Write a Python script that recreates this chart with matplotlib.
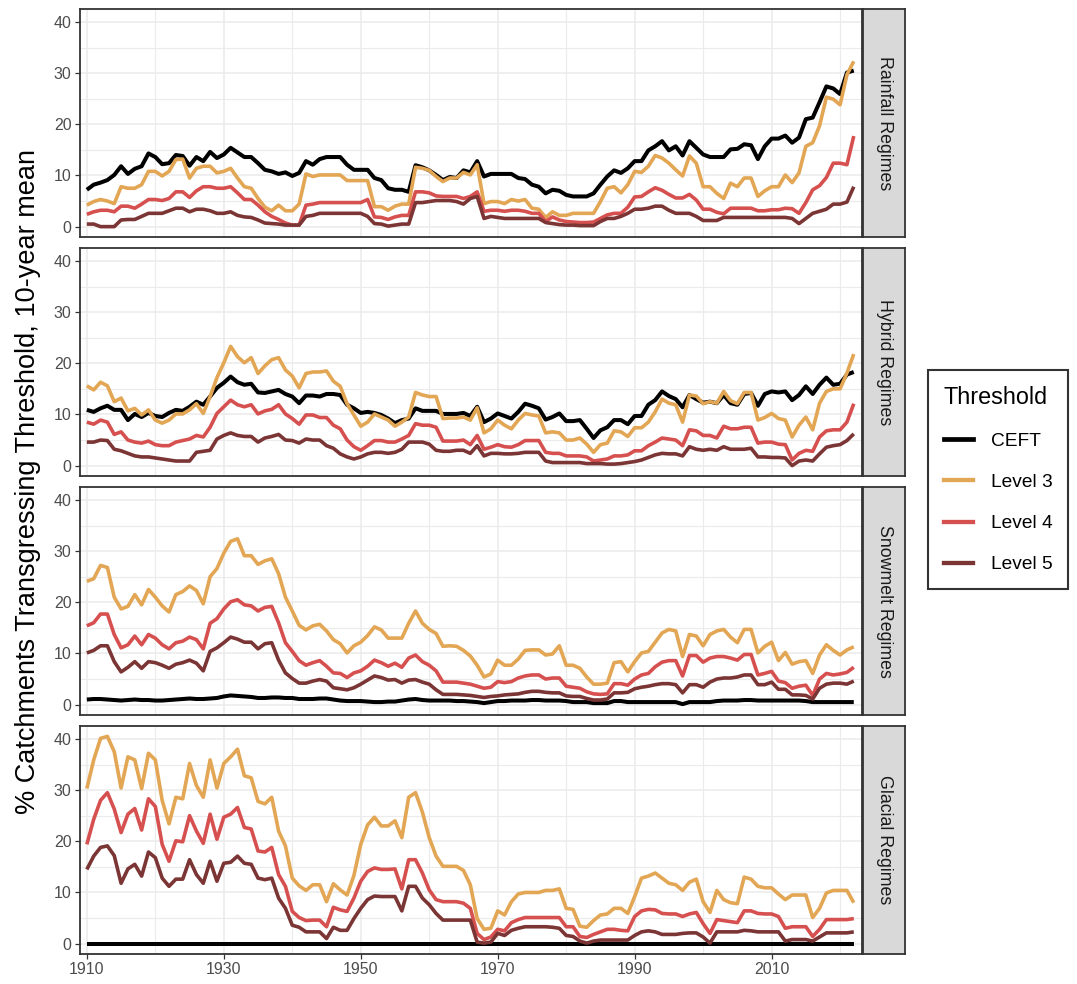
import numpy as np
import matplotlib.pyplot as plt
from matplotlib.lines import Line2D


W, H = 1077, 984
DPI = 100

years = np.arange(1910, 2023)

thresholds = ['CEFT', 'Level 3', 'Level 4', 'Level 5']
colours = ['#000000', '#E2A654', '#D75050', '#7C3535']
widths = [2.9, 2.6, 2.6, 2.6]
regimes = ['Rainfall Regimes', 'Hybrid Regimes', 'Snowmelt Regimes', 'Glacial Regimes']

x_major = [1910, 1930, 1950, 1970, 1990, 2010]
x_minor = [1920, 1940, 1960, 1980, 2000, 2020]
y_major = [0, 10, 20, 30, 40]
y_minor = [5, 15, 25, 35]

# % of catchments over each threshold, 10-year running mean, 1910-2022
rain_ceft = [
    7.2, 8.2, 8.6, 9.1, 10.1, 11.8, 10.3, 11.3, 11.8, 14.3,
    13.6, 12.2, 12.4, 14.0, 13.8, 11.9, 13.6, 12.8, 14.6, 13.4,
    14.1, 15.4, 14.5, 13.6, 13.6, 12.4, 11.1, 10.8, 10.3, 10.6,
    9.9, 10.5, 12.8, 12.1, 13.2, 13.6, 13.6, 13.6, 12.1, 11.1,
    11.1, 11.1, 9.5, 9.1, 7.5, 7.2, 7.2, 6.8, 12.0, 11.6,
    11.0, 10.1, 9.1, 9.7, 9.5, 11.0, 10.6, 12.8, 9.8, 10.3,
    10.3, 10.3, 10.3, 9.5, 9.3, 8.2, 7.8, 6.5, 7.2, 7.0,
    6.2, 5.9, 5.9, 5.9, 6.5, 8.2, 9.8, 11.0, 10.5, 11.4,
    12.8, 12.8, 14.9, 15.7, 16.7, 14.9, 15.7, 13.9, 16.7, 15.4,
    14.1, 13.6, 13.6, 13.6, 15.1, 15.2, 16.1, 15.9, 13.2, 15.7,
    17.2, 17.2, 17.8, 16.4, 17.4, 21.0, 21.3, 24.3, 27.4, 27.0,
    25.9, 30.1, 30.5,
]
rain_l3 = [
    4.2, 4.9, 5.3, 5.0, 4.5, 7.8, 7.5, 7.5, 8.2, 10.8,
    10.8, 9.9, 10.8, 13.1, 13.2, 9.5, 11.4, 11.8, 11.8, 10.5,
    10.8, 11.4, 9.5, 7.8, 7.5, 5.5, 3.8, 3.1, 4.2, 3.1,
    3.1, 4.4, 10.3, 9.8, 10.1, 10.1, 10.1, 10.1, 9.0, 9.0,
    9.0, 9.0, 3.9, 3.9, 3.2, 4.0, 4.4, 4.4, 11.6, 11.4,
    11.0, 9.8, 8.8, 9.5, 9.5, 10.6, 10.1, 12.1, 4.5, 4.9,
    4.9, 4.5, 5.3, 5.0, 5.3, 3.6, 3.4, 1.8, 2.9, 2.2,
    2.2, 2.6, 2.6, 2.6, 2.6, 4.9, 7.5, 7.8, 6.6, 8.2,
    10.8, 10.6, 11.8, 13.9, 13.4, 12.4, 11.1, 9.9, 13.8, 12.4,
    7.8, 7.8, 6.5, 5.5, 8.5, 7.8, 9.5, 9.5, 5.9, 7.0,
    7.8, 7.8, 10.1, 8.6, 10.5, 15.7, 16.4, 19.7, 25.3, 24.9,
    23.8, 29.7, 32.3,
]
rain_l4 = [
    2.4, 2.9, 3.2, 3.2, 2.9, 4.0, 4.0, 3.6, 4.4, 5.3,
    5.3, 5.1, 5.5, 6.8, 6.8, 5.7, 7.0, 7.8, 7.8, 7.5,
    7.5, 7.8, 6.6, 5.3, 5.3, 4.2, 2.9, 2.0, 1.4, 0.7,
    0.3, 0.3, 4.2, 4.4, 4.7, 4.7, 4.7, 4.7, 4.7, 4.7,
    4.7, 5.3, 1.9, 1.8, 1.4, 1.9, 2.2, 2.2, 6.8, 6.8,
    6.6, 6.0, 5.9, 5.9, 5.9, 5.5, 5.9, 6.8, 3.0, 3.2,
    3.2, 3.0, 3.2, 3.2, 3.0, 2.6, 2.6, 1.0, 1.9, 1.3,
    1.0, 0.9, 0.8, 0.8, 0.9, 1.6, 2.3, 2.6, 2.6, 3.8,
    5.8, 5.9, 6.8, 7.6, 7.1, 6.3, 5.6, 5.6, 6.3, 5.2,
    3.4, 3.4, 2.8, 2.5, 3.6, 3.6, 3.6, 3.6, 3.1, 3.1,
    3.3, 3.3, 3.6, 3.5, 2.6, 4.7, 7.2, 8.0, 9.6, 12.4,
    12.4, 12.1, 17.7,
]
rain_l5 = [
    0.5, 0.5, 0.0, 0.0, 0.0, 1.3, 1.4, 1.4, 2.0, 2.6,
    2.6, 2.6, 3.1, 3.6, 3.6, 2.9, 3.4, 3.4, 3.1, 2.6,
    2.6, 2.9, 2.2, 1.9, 1.8, 1.3, 0.7, 0.6, 0.5, 0.3,
    0.3, 0.3, 2.0, 2.2, 2.6, 2.6, 2.6, 2.6, 2.6, 2.6,
    2.6, 2.0, 0.6, 0.5, 0.1, 0.3, 0.5, 0.5, 4.7, 4.7,
    4.9, 5.1, 5.1, 5.1, 4.9, 4.4, 5.5, 5.9, 1.6, 2.0,
    1.8, 1.6, 1.6, 1.6, 1.6, 1.6, 1.6, 0.8, 0.6, 0.4,
    0.3, 0.3, 0.2, 0.2, 0.2, 1.0, 1.6, 1.6, 2.0, 2.6,
    3.4, 3.4, 3.6, 4.0, 4.0, 3.2, 2.6, 2.6, 2.6, 2.0,
    1.2, 1.2, 1.2, 1.8, 1.8, 1.8, 1.8, 1.8, 1.8, 1.8,
    1.8, 1.8, 1.8, 1.6, 0.6, 1.6, 2.6, 3.0, 3.4, 4.4,
    4.4, 4.8, 7.8,
]

hybrid_ceft = [
    10.9, 10.5, 11.2, 11.7, 10.9, 10.9, 8.9, 10.1, 9.5, 10.3,
    9.7, 9.5, 10.3, 10.9, 10.7, 11.5, 12.5, 11.9, 13.5, 15.2,
    16.2, 17.4, 16.3, 15.8, 16.0, 14.3, 14.2, 14.5, 14.8, 14.0,
    13.5, 12.2, 13.7, 13.7, 13.5, 14.0, 14.0, 13.8, 11.9, 11.2,
    10.3, 10.5, 10.3, 9.9, 9.2, 8.3, 8.9, 9.2, 11.2, 10.7,
    10.7, 10.7, 10.1, 10.1, 10.1, 10.3, 9.7, 11.5, 8.5, 9.2,
    10.2, 9.7, 9.2, 10.5, 12.1, 11.7, 11.2, 9.0, 9.5, 10.2,
    8.7, 8.7, 8.9, 7.2, 5.4, 6.9, 7.5, 8.9, 8.9, 8.1,
    9.7, 9.7, 11.9, 12.8, 14.5, 13.6, 13.0, 11.4, 13.8, 13.0,
    12.3, 12.5, 12.2, 13.8, 12.2, 11.9, 14.0, 14.2, 11.7, 14.0,
    14.5, 14.3, 14.5, 12.8, 13.8, 15.5, 14.0, 15.8, 17.2, 15.8,
    16.0, 17.8, 18.3,
]
hybrid_l3 = [
    15.6, 14.8, 16.3, 15.6, 12.5, 13.2, 10.7, 11.2, 9.9, 10.9,
    8.9, 8.3, 8.9, 10.1, 10.1, 10.9, 12.1, 10.2, 13.5, 17.2,
    20.1, 23.3, 21.3, 20.1, 21.1, 18.0, 19.5, 20.7, 21.1, 18.7,
    17.5, 15.2, 18.0, 18.3, 18.3, 18.5, 16.5, 15.5, 12.1, 9.9,
    7.7, 8.5, 10.1, 9.5, 8.9, 7.7, 8.5, 9.5, 14.3, 13.8,
    13.5, 13.5, 9.2, 9.3, 9.3, 9.5, 8.9, 11.3, 6.4, 7.2,
    8.9, 7.9, 7.2, 8.9, 10.2, 9.9, 9.7, 6.4, 6.6, 6.4,
    5.0, 5.0, 5.4, 4.2, 2.6, 4.1, 4.4, 6.8, 6.6, 5.7,
    7.4, 7.4, 8.5, 10.5, 13.0, 12.2, 11.9, 8.5, 13.8, 13.6,
    12.1, 12.5, 12.2, 14.5, 12.7, 12.1, 14.3, 14.3, 8.9, 9.4,
    10.2, 9.2, 8.9, 5.6, 7.9, 9.5, 7.0, 12.2, 14.5, 15.0,
    15.0, 18.1, 21.8,
]
hybrid_l4 = [
    8.5, 8.1, 8.9, 8.5, 6.1, 6.6, 5.0, 4.6, 4.4, 4.8,
    4.1, 3.9, 3.9, 4.6, 4.9, 5.2, 5.9, 5.6, 7.5, 10.2,
    11.5, 12.8, 11.9, 11.5, 11.9, 10.1, 10.7, 11.0, 11.9, 10.1,
    9.2, 8.1, 9.9, 9.9, 9.4, 9.4, 7.9, 7.2, 5.0, 3.7,
    3.0, 3.9, 4.9, 4.9, 4.6, 4.6, 5.2, 5.9, 8.2, 7.9,
    7.9, 7.5, 4.8, 4.8, 4.8, 5.0, 4.1, 5.9, 3.2, 3.6,
    4.1, 3.7, 3.6, 4.1, 4.9, 4.9, 4.9, 2.6, 2.4, 2.4,
    1.9, 1.9, 1.9, 1.7, 0.9, 1.1, 1.3, 1.9, 1.9, 2.1,
    2.9, 2.9, 3.9, 4.6, 5.4, 5.2, 5.0, 3.9, 7.0, 6.8,
    5.9, 5.9, 5.4, 7.7, 7.2, 7.2, 7.5, 7.5, 4.4, 4.6,
    4.6, 4.2, 4.1, 1.1, 2.4, 3.0, 2.8, 5.6, 6.8, 7.0,
    7.0, 8.5, 12.1,
]
hybrid_l5 = [
    4.6, 4.6, 5.0, 4.9, 3.2, 2.9, 2.4, 1.9, 1.7, 1.7,
    1.5, 1.3, 1.1, 0.9, 0.9, 0.9, 2.6, 2.8, 3.0, 5.2,
    5.9, 6.4, 5.9, 5.7, 5.7, 4.6, 5.4, 5.7, 6.1, 5.0,
    4.9, 4.4, 5.2, 5.0, 5.0, 3.9, 3.4, 2.3, 1.7, 1.3,
    1.7, 2.3, 2.6, 2.6, 2.4, 2.6, 3.2, 4.6, 4.6, 4.6,
    4.2, 3.0, 2.8, 2.8, 3.0, 3.0, 2.4, 3.9, 1.9, 2.4,
    2.4, 2.3, 2.3, 2.4, 2.6, 2.6, 2.6, 0.9, 0.6, 0.6,
    0.6, 0.6, 0.6, 0.4, 0.4, 0.4, 0.3, 0.3, 0.4, 0.6,
    0.8, 1.1, 1.6, 2.1, 2.4, 2.3, 2.3, 1.9, 3.7, 3.2,
    3.0, 3.2, 3.0, 3.7, 3.2, 3.2, 3.2, 3.4, 1.7, 1.7,
    1.6, 1.6, 1.5, 0.0, 0.9, 1.1, 0.9, 2.3, 3.6, 3.9,
    4.1, 4.9, 6.2,
]

snow_ceft = [
    1.0, 1.1, 1.1, 1.0, 0.9, 0.8, 0.9, 1.0, 0.9, 0.9,
    0.8, 0.8, 0.9, 1.0, 1.1, 1.2, 1.1, 1.1, 1.2, 1.3,
    1.6, 1.8, 1.7, 1.6, 1.5, 1.3, 1.3, 1.4, 1.4, 1.3,
    1.3, 1.1, 1.1, 1.1, 1.2, 1.2, 1.0, 0.8, 0.7, 0.7,
    0.7, 0.6, 0.5, 0.5, 0.6, 0.6, 0.8, 1.0, 1.1, 0.9,
    0.8, 0.8, 0.8, 0.8, 0.7, 0.7, 0.6, 0.5, 0.3, 0.5,
    0.7, 0.7, 0.8, 0.8, 0.8, 0.9, 0.9, 0.8, 0.8, 0.8,
    0.7, 0.5, 0.5, 0.5, 0.3, 0.3, 0.3, 0.7, 0.7, 0.5,
    0.5, 0.5, 0.5, 0.5, 0.5, 0.5, 0.5, 0.1, 0.5, 0.5,
    0.5, 0.5, 0.7, 0.8, 0.8, 0.8, 0.9, 0.9, 0.8, 0.8,
    0.8, 0.8, 0.8, 0.8, 0.8, 0.7, 0.5, 0.5, 0.5, 0.5,
    0.5, 0.5, 0.5,
]
snow_l3 = [
    24.1, 24.6, 27.2, 26.8, 21.0, 18.7, 19.2, 21.5, 19.5, 22.5,
    21.0, 19.3, 18.1, 21.5, 22.1, 23.2, 22.3, 19.7, 25.0, 26.6,
    29.6, 31.9, 32.4, 29.1, 29.1, 27.4, 28.1, 28.5, 25.6, 21.0,
    18.3, 15.5, 14.6, 15.4, 15.7, 14.4, 12.7, 11.9, 10.1, 11.5,
    12.2, 13.5, 15.2, 14.6, 13.0, 13.0, 13.0, 15.9, 18.3, 15.9,
    14.7, 13.9, 11.4, 11.5, 11.4, 10.6, 9.5, 7.7, 5.4, 6.0,
    8.7, 7.7, 7.7, 8.9, 10.6, 10.7, 10.7, 9.7, 9.9, 11.5,
    7.7, 7.7, 7.1, 5.4, 4.0, 4.0, 4.2, 8.2, 8.4, 6.4,
    8.4, 10.1, 10.4, 12.2, 14.0, 14.7, 14.4, 9.4, 13.7, 13.4,
    11.5, 13.7, 14.4, 14.7, 13.2, 12.1, 14.7, 14.7, 10.1, 11.4,
    12.2, 8.6, 10.2, 7.9, 8.4, 8.6, 6.1, 9.7, 11.7, 10.6,
    9.7, 10.7, 11.3,
]
snow_l4 = [
    15.4, 16.0, 17.7, 17.7, 13.7, 11.1, 11.7, 13.4, 11.7, 13.7,
    13.0, 11.7, 10.9, 12.1, 12.4, 13.2, 12.7, 10.9, 15.9, 16.8,
    18.7, 20.1, 20.5, 19.5, 19.3, 18.3, 19.0, 19.2, 16.0, 12.1,
    10.4, 8.6, 7.7, 8.2, 8.6, 7.5, 6.2, 6.1, 5.3, 6.2,
    6.6, 7.5, 8.7, 8.2, 7.5, 8.1, 7.3, 9.1, 9.7, 8.4,
    7.7, 6.6, 4.4, 4.4, 4.4, 4.2, 4.0, 3.6, 3.2, 3.4,
    4.5, 4.3, 4.5, 5.2, 5.6, 5.8, 5.8, 5.0, 5.2, 5.2,
    3.6, 3.4, 3.2, 2.5, 2.1, 2.0, 2.1, 4.1, 4.1, 3.8,
    5.0, 5.8, 6.1, 7.4, 8.3, 8.6, 8.6, 5.6, 9.6, 9.6,
    8.3, 9.1, 9.4, 9.4, 9.1, 8.7, 9.8, 9.8, 5.8, 6.1,
    6.5, 4.6, 4.3, 3.2, 3.6, 3.8, 1.8, 5.0, 6.1, 5.8,
    6.0, 6.3, 7.3,
]
snow_l5 = [
    10.1, 10.6, 11.5, 11.5, 8.4, 6.4, 7.3, 8.4, 7.1, 8.4,
    8.2, 7.7, 7.1, 7.9, 8.2, 8.7, 8.1, 6.6, 10.4, 11.1,
    12.1, 13.2, 12.8, 12.2, 12.2, 10.9, 11.9, 12.1, 8.7, 6.2,
    5.1, 4.2, 4.2, 4.6, 4.9, 4.6, 3.3, 3.1, 2.9, 3.3,
    4.0, 4.8, 5.6, 5.3, 4.8, 4.9, 4.2, 4.8, 4.9, 4.4,
    4.0, 2.9, 2.0, 2.0, 2.0, 1.9, 1.8, 1.6, 1.4, 1.6,
    1.7, 1.9, 2.0, 2.1, 2.4, 2.6, 2.6, 2.4, 2.3, 2.3,
    1.7, 1.6, 1.6, 1.2, 0.9, 0.9, 1.1, 2.3, 2.3, 2.4,
    3.1, 3.4, 3.6, 3.9, 4.1, 4.1, 3.9, 2.3, 3.9, 3.9,
    3.4, 4.4, 5.0, 5.2, 5.2, 5.4, 5.8, 5.8, 3.9, 3.9,
    4.4, 3.0, 3.0, 1.9, 1.9, 1.8, 1.1, 3.2, 4.0, 4.2,
    4.2, 4.0, 4.6,
]

glacial_ceft = [
    0, 0, 0, 0, 0, 0, 0, 0, 0, 0,
    0, 0, 0, 0, 0, 0, 0, 0, 0, 0,
    0, 0, 0, 0, 0, 0, 0, 0, 0, 0,
    0, 0, 0, 0, 0, 0, 0, 0, 0, 0,
    0, 0, 0, 0, 0, 0, 0, 0, 0, 0,
    0, 0, 0, 0, 0, 0, 0, 0, 0, 0,
    0, 0, 0, 0, 0, 0, 0, 0, 0, 0,
    0, 0, 0, 0, 0, 0, 0, 0, 0, 0,
    0, 0, 0, 0, 0, 0, 0, 0, 0, 0,
    0, 0, 0, 0, 0, 0, 0, 0, 0, 0,
    0, 0, 0, 0, 0, 0, 0, 0, 0, 0,
    0, 0, 0,
]
glacial_l3 = [
    30.3, 35.9, 40.1, 40.5, 37.5, 30.4, 36.5, 35.9, 30.3, 37.2,
    35.9, 28.0, 23.4, 28.6, 28.3, 35.2, 30.9, 28.6, 35.9, 30.4,
    35.2, 36.5, 38.0, 32.8, 32.4, 27.8, 27.3, 28.6, 22.0, 19.1,
    12.8, 11.3, 10.4, 11.5, 11.5, 8.2, 11.7, 10.5, 9.5, 13.3,
    19.4, 23.2, 24.7, 23.0, 23.0, 24.0, 20.7, 28.6, 29.5, 25.7,
    20.7, 17.1, 15.1, 15.1, 15.1, 14.3, 11.5, 4.9, 2.8, 3.0,
    6.4, 5.6, 8.2, 9.7, 10.0, 10.0, 10.0, 10.4, 10.4, 10.7,
    6.9, 6.7, 3.4, 3.2, 4.5, 5.6, 5.8, 6.9, 6.9, 5.9,
    9.2, 12.8, 13.2, 13.8, 12.8, 11.8, 11.5, 10.4, 12.0, 12.6,
    8.2, 6.1, 10.4, 8.6, 8.0, 7.8, 13.0, 12.6, 11.2, 10.9,
    10.9, 9.7, 8.6, 9.5, 9.5, 9.5, 5.1, 6.9, 9.9, 10.4,
    10.4, 10.4, 8.0,
]
glacial_l4 = [
    19.4, 24.3, 28.0, 29.5, 26.3, 21.7, 25.3, 26.4, 22.2, 28.3,
    26.8, 19.4, 16.1, 20.1, 19.9, 25.0, 22.0, 19.6, 25.3, 20.4,
    24.7, 25.3, 26.6, 22.7, 22.4, 18.1, 17.9, 18.8, 13.5, 11.2,
    6.3, 5.1, 4.5, 4.6, 4.6, 3.3, 7.1, 6.6, 6.3, 8.9,
    12.2, 14.1, 14.8, 14.5, 14.5, 14.6, 10.7, 16.4, 16.4, 13.8,
    10.5, 8.6, 8.2, 8.2, 8.2, 7.9, 6.9, 2.0, 0.8, 1.3,
    2.8, 2.5, 4.1, 4.7, 5.1, 5.1, 5.1, 5.1, 5.1, 5.1,
    3.3, 3.3, 1.4, 1.2, 1.8, 2.3, 2.8, 2.8, 2.6, 2.5,
    5.3, 6.4, 6.7, 6.6, 5.9, 5.8, 5.8, 5.3, 5.8, 6.1,
    3.9, 2.0, 4.7, 4.5, 4.3, 4.1, 6.4, 6.4, 5.9, 5.8,
    5.8, 5.3, 3.0, 3.3, 3.3, 3.3, 1.4, 2.8, 4.7, 4.7,
    4.7, 4.7, 4.9,
]
glacial_l5 = [
    14.5, 17.1, 18.8, 19.1, 17.2, 11.8, 14.6, 15.5, 13.2, 17.9,
    16.8, 12.8, 11.2, 12.6, 12.6, 16.4, 13.5, 11.8, 16.1, 12.2,
    15.7, 15.9, 17.1, 15.7, 15.5, 12.8, 12.5, 12.8, 8.9, 6.9,
    3.6, 3.2, 2.3, 2.3, 2.3, 1.0, 3.2, 2.6, 2.6, 4.9,
    6.9, 8.6, 9.3, 9.2, 9.2, 9.2, 6.4, 11.2, 11.2, 8.9,
    7.6, 5.9, 4.6, 4.6, 4.6, 4.6, 4.6, 0.3, 0.1, 0.3,
    2.0, 1.6, 2.6, 3.0, 3.3, 3.3, 3.3, 3.3, 3.2, 3.0,
    1.6, 1.4, 0.5, 0.1, 0.5, 0.7, 0.7, 0.7, 0.7, 0.7,
    1.6, 2.3, 2.5, 2.3, 1.8, 1.8, 1.8, 2.0, 2.1, 2.1,
    1.3, 0.1, 2.3, 2.3, 2.3, 2.3, 2.6, 2.5, 2.3, 2.3,
    2.3, 2.3, 0.5, 0.8, 0.8, 0.8, 0.5, 1.3, 2.1, 2.1,
    2.1, 2.1, 2.3,
]

panels = [
    [rain_ceft, rain_l3, rain_l4, rain_l5],
    [hybrid_ceft, hybrid_l3, hybrid_l4, hybrid_l5],
    [snow_ceft, snow_l3, snow_l4, snow_l5],
    [glacial_ceft, glacial_l3, glacial_l4, glacial_l5],
]

GRID = '#EBEBEB'
BORDER = '#333333'
TICK_TEXT = '#4D4D4D'

PANEL_LEFT, PANEL_WIDTH = 80, 782
PANEL_HEIGHT = 228
PANEL_TOPS = [9, 248, 487, 726]


def px_rect(left, top, width, height):
    return [left / W, 1 - (top + height) / H, width / W, height / H]


def style_panel(ax, ylim, show_x):
    ax.set_xlim(years[0] - 1.0, years[-1] + 1.2)
    ax.set_ylim(*ylim)
    ax.set_xticks(x_major)
    ax.set_xticks(x_minor, minor=True)
    ax.set_yticks(y_major)
    ax.set_yticks(y_minor, minor=True)
    ax.grid(which='major', color=GRID, lw=1.1)
    ax.grid(which='minor', color=GRID, lw=0.8)
    ax.set_axisbelow(True)
    ax.tick_params(which='major', length=3.5, width=0.9, color=BORDER,
                   labelsize=11.5, labelcolor=TICK_TEXT, pad=2.5)
    ax.tick_params(which='minor', length=0)
    if not show_x:
        ax.tick_params(axis='x', which='major', length=0, labelbottom=False)
    for spine in ax.spines.values():
        spine.set_color(BORDER)
        spine.set_linewidth(1.3)


def add_strip(fig, top, label):
    sax = fig.add_axes(px_rect(PANEL_LEFT + PANEL_WIDTH + 1, top, 42, PANEL_HEIGHT))
    sax.set_facecolor('#D9D9D9')
    sax.set_xticks([])
    sax.set_yticks([])
    for spine in sax.spines.values():
        spine.set_color(BORDER)
        spine.set_linewidth(1.3)
    sax.text(0.5, 0.5, label, rotation=-90, ha='center', va='center',
             fontsize=12.8, color='#1A1A1A', transform=sax.transAxes)


def main():
    plt.rcParams['font.family'] = ['Liberation Sans', 'DejaVu Sans']
    fig = plt.figure(figsize=(W / DPI, H / DPI), dpi=DPI)

    ymax = max(max(s) for group in panels for s in group)
    ylim = (-0.05 * ymax, 1.05 * ymax)

    for i, (group, label) in enumerate(zip(panels, regimes)):
        top = PANEL_TOPS[i]
        ax = fig.add_axes(px_rect(PANEL_LEFT, top, PANEL_WIDTH, PANEL_HEIGHT))
        for series, colour, lw in zip(group, colours, widths):
            ax.plot(years, series, color=colour, lw=lw,
                    solid_joinstyle='round', solid_capstyle='butt')
        style_panel(ax, ylim, show_x=(i == len(panels) - 1))
        add_strip(fig, top, label)

    fig.text(28 / W, 1 - 482 / H,
             '% Catchments Transgressing Threshold, 10-year mean',
             rotation=90, ha='center', va='center', fontsize=19.5,
             color='black')

    handles = [Line2D([], [], color=c, lw=lw + 0.5)
               for c, lw in zip(colours, widths)]
    leg = fig.legend(handles, thresholds, title='Threshold',
                     loc='upper left', bbox_to_anchor=(928 / W, 1 - 370 / H),
                     fontsize=13.8, title_fontsize=16.8, frameon=True,
                     fancybox=False, edgecolor='black', handlelength=1.55,
                     handletextpad=0.9, labelspacing=1.24, borderpad=0.82,
                     borderaxespad=0, alignment='left')
    leg.get_frame().set_linewidth(1.5)

    fig.savefig('out.png', dpi=DPI)


if __name__ == '__main__':
    main()
